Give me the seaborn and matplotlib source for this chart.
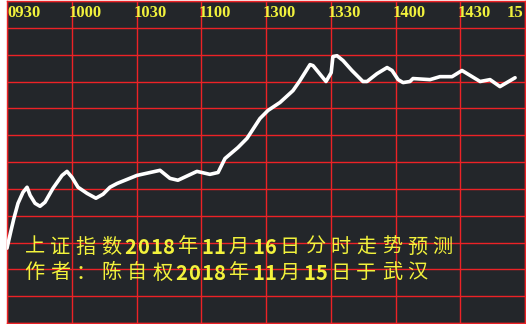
import matplotlib
matplotlib.use("Agg")
import matplotlib.pyplot as plt
import seaborn as sns
import pandas as pd

# minutes after 09:30 on a compressed trading-time axis (0..240)
minutes = [0, 1.9, 3.2, 5.1, 7.4, 9.3, 10.7, 13.0, 15.3, 17.6, 21.3, 25.5,
           27.8, 30.1, 32.9, 37.1, 41.2, 44.5, 47.7, 51.0, 60.2, 70.9, 75.5,
           79.2, 88.0, 94.0, 97.8, 101.0, 107.0, 111.2, 117.2, 120.9, 126.5,
           132.5, 135.7, 140.4, 141.8, 147.8, 150.2, 151.0, 152.9, 155.7, 159.8,
           164.9, 166.8, 171.4, 176.1, 178.4, 181.2, 183.5, 186.7, 188.1, 196.0,
           200.6, 206.2, 210.8, 219.2, 223.8, 228.4, 235.4]
# forecast level in grid units (0 = bottom, 12 = top)
level = [2.79, 3.46, 3.90, 4.46, 4.87, 5.06, 4.76, 4.46, 4.35, 4.50, 5.02, 5.50,
         5.65, 5.43, 5.06, 4.83, 4.65, 4.80, 5.06, 5.20, 5.50, 5.69, 5.39,
         5.32, 5.65, 5.54, 5.61, 6.13, 6.54, 6.88, 7.62, 7.92, 8.22,
         8.66, 9.03, 9.63, 9.59, 9.00, 9.33, 9.93, 9.96, 9.78, 9.41,
         9.00, 9.00, 9.29, 9.52, 9.41, 9.07, 8.96, 9.00, 9.11, 9.07,
         9.18, 9.18, 9.41, 9.00, 9.07, 8.81, 9.14]

tick_pos = [0, 30, 60, 90, 120, 150, 180, 210, 240]
tick_labels = ["0930", "1000", "1030", "1100", "1300", "1330", "1400", "1430", "15"]

title1 = "上证指数2018年11月16日分时走势预测"
title2 = "作者：陈自权2018年11月15日于武汉"

RED = "#ec2226"
BG = "#23262a"
YEL = "#f2f23c"
W, H = 526, 324

df = pd.DataFrame({"t": minutes, "v": level})

fig = plt.figure(figsize=(W / 100, H / 100), dpi=100, facecolor="white")
ax = fig.add_axes([7 / W, 1 / H, (525 - 7) / W, 322 / H])
ax.set_facecolor(BG)

sns.lineplot(data=df, x="t", y="v", ax=ax, color="white", linewidth=2.6,
             solid_joinstyle="round", solid_capstyle="round", zorder=3)

ax.set_xlim(0, 240)
ax.set_ylim(0, 12)
ax.set_xticks(tick_pos)
ax.set_yticks(range(0, 13))
ax.grid(True, color=RED, linewidth=1.0, zorder=1)
ax.set_axisbelow(True)
ax.tick_params(length=0, labelbottom=False, labelleft=False)
ax.set_xlabel("")
ax.set_ylabel("")
for s in ax.spines.values():
    s.set_color(RED)
    s.set_linewidth(1.0)

# time labels inside the top of the plot
for i, (p, lab) in enumerate(zip(tick_pos, tick_labels)):
    xpx = ax.transData.transform((p, 0))[0]
    if i == 0:
        xpx += 0
    elif i == len(tick_pos) - 1:
        xpx = 507
    else:
        xpx -= 3
    fig.text(xpx / W, 1 - 13 / H, lab, color=YEL, fontsize=12,
             family="Liberation Serif", fontweight="bold", ha="left", va="center")

# Chinese caption, character-spaced
def draw_line(text, x0, yc, adv):
    x = x0
    for c in text:
        a = adv if ord(c) > 255 else adv / 2
        fig.text((x + a / 2) / W, 1 - yc / H, c, color=YEL, fontsize=14.5,
                 family=["Noto Sans CJK SC", "DejaVu Sans"],
                 fontweight="bold" if c.isdigit() else "normal",
                 ha="center", va="center")
        x += a

draw_line(title1, 22, 247, 25.5)
draw_line(title2, 22, 273, 25.5)

fig.savefig("out.png", dpi=100, facecolor="white")
